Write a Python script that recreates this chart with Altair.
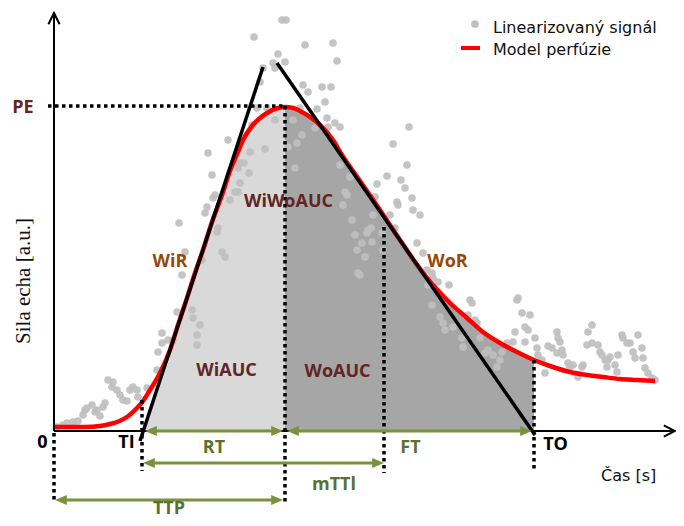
import altair as alt
import pandas as pd

# ---------------- data (time / signal in figure units) ----------------
sig_time = [3, 9, 13, 19, 24, 29, 31, 33, 38, 41, 43, 46, 49, 51, 54, 59, 58, 63, 66, 69, 73, 76, 79, 83, 84, 93,
            103, 104, 108, 108, 114, 119, 123, 128, 138, 139, 146, 143, 143,
            154, 158, 161, 159, 153, 151, 125, 164, 163, 131, 168, 171, 148, 186, 190, 184, 195, 186, 181, 176, 184, 211,
            228, 232, 200, 224, 219, 231, 221, 209, 206, 203, 213, 221, 198, 174, 196, 246,
            251, 279, 283, 249, 254, 268, 277, 271, 263, 273, 281, 286, 274, 355, 339, 239, 248, 243, 261, 234,
            241, 353, 333, 323, 347, 351, 358, 343, 344, 321, 359, 366, 336, 341, 363, 369, 374, 291, 293, 289,
            298, 314, 317, 313, 301, 308, 318, 303, 311, 306, 304, 328, 329, 319, 286, 296,
            373, 378, 384, 395, 379, 378, 386, 389, 391, 399, 408, 409, 426, 434, 431, 439, 446, 443, 448, 416,
            418, 414, 421, 423, 463, 464, 461, 459, 453,
            468, 476, 471, 474, 471, 481, 483, 484, 488, 491, 494, 503, 504, 506, 498, 503, 508, 509, 514, 516,
            519, 524, 528, 529, 538, 534, 533, 538, 544, 546, 548, 551, 554, 556, 553, 561, 563, 564, 568, 569,
            573, 576, 584, 588, 579, 581, 589, 591, 594, 598, 601]
sig_val = [4, 6, 8, 9, 10, 16, 21, 23, 26, 19, 21, 15, 24, 28, 51, 49, 44, 41, 36, 31, 30, 41, 44, 41, 34, 43,
           61, 79, 88, 98, 91, 91, 119, 156, 121, 113, 106, 96, 86,
           278, 256, 236, 233, 224, 218, 208, 203, 199, 179, 179, 174, 171, 268, 268, 263, 258, 248, 239, 231, 239, 282,
           411, 411, 394, 377, 368, 369, 363, 363, 349, 323, 323, 311, 306, 291, 279, 323,
           386, 388, 370, 346, 339, 344, 344, 329, 322, 313, 308, 304, 304, 304, 287, 311, 296, 288, 303, 284,
           263, 266, 255, 247, 251, 243, 233, 229, 226, 234, 221, 216, 216, 203, 188, 178, 146, 239, 236, 226,
           211, 201, 203, 198, 196, 188, 189, 181, 174, 156, 158, 198, 181, 216, 266, 254,
           161, 158, 149, 146, 153, 126, 114, 108, 101, 104, 93, 84, 93, 81, 78, 76, 71, 64, 79, 131,
           128, 116, 111, 108, 131, 133, 99, 89, 88,
           118, 116, 104, 101, 89, 93, 83, 76, 71, 58, 85, 99, 93, 89, 83, 78, 81, 76, 68, 64,
           66, 54, 64, 66, 106, 99, 86, 88, 86, 79, 76, 71, 71, 74, 64, 66, 59, 76, 96, 93,
           88, 88, 96, 83, 79, 73, 73, 63, 58, 53, 51]

model_time = [0, 16, 31, 46, 56, 63, 73, 83, 89, 96, 106, 116, 124, 133, 141, 149, 158, 168, 176, 184, 189, 198,
              206, 213, 224, 231, 239, 246, 256, 266, 279, 288, 306, 326, 346, 359, 373, 379, 396, 413, 429, 446,
              463, 480, 496, 516, 533, 549, 566, 583, 601]
model_val = [4, 4, 4, 5, 7, 9, 14, 23, 30, 41, 58, 81, 106, 133, 158, 181, 209, 236, 260, 279, 291, 305,
             313, 318, 323, 324, 323, 320, 314, 306, 291, 276, 250, 221, 191, 172, 153, 146, 128, 113, 99, 88,
             79, 71, 65, 59, 56, 54, 52, 51, 50]

TI, TTP, MTT, TO, PE = 88, 231, 330, 480, 325
wir_t, wir_s = [86, 209], [-10, 364]     # wash-in tangent
wor_t, wor_s = [223, 481], [368, -4]     # wash-out tangent

RED = "#ff0000"
GREEN = "#77933c"
GREEN_TXT = "#5a7130"
BROWN = "#632523"
ORANGE = "#984807"

xs = alt.Scale(domain=[-46, 622], nice=False, zero=False)
ys = alt.Scale(domain=[-87, 423], nice=False, zero=False)


def X(f="t"):
    return alt.X(f"{f}:Q", scale=xs, axis=None)


def Y(f="s"):
    return alt.Y(f"{f}:Q", scale=ys, axis=None)


def wir_at(t):
    return wir_s[0] + (t - wir_t[0]) * (wir_s[1] - wir_s[0]) / (wir_t[1] - wir_t[0])


# ---------- shaded areas ----------
t0 = wir_t[0] + (0 - wir_s[0]) * (wir_t[1] - wir_t[0]) / (wir_s[1] - wir_s[0])
light_rows = [{"t": t0, "s": 0, "b": 0}]
for t, s in zip(model_time, model_val):
    if t0 < t <= TTP:
        light_rows.append({"t": t, "s": max(0, min(s, wir_at(t))), "b": 0})
light_df = pd.DataFrame(light_rows)
dark_df = pd.DataFrame([{"t": t, "s": s, "b": 0} for t, s in zip(model_time, model_val) if TTP <= t <= TO])

light = alt.Chart(light_df).mark_area(color="#d9d9d9", opacity=1).encode(x=X(), y=Y(), y2="b:Q")
dark = alt.Chart(dark_df).mark_area(color="#a6a6a6", opacity=1).encode(x=X(), y=Y(), y2="b:Q")

# ---------- scatter ----------
sig_df = pd.DataFrame({"t": sig_time, "s": sig_val})
pts = alt.Chart(sig_df).mark_circle(size=58, color="#bfbfbf", opacity=0.92).encode(x=X(), y=Y())

# ---------- model ----------
model_df = pd.DataFrame({"t": model_time, "s": model_val})
model = alt.Chart(model_df).mark_line(color=RED, strokeWidth=4.5, interpolate="monotone").encode(x=X(), y=Y())

# ---------- tangents ----------
tan_df = pd.DataFrame({"t": [wir_t[0], wor_t[0]], "s": [wir_s[0], wor_s[0]],
                       "t2": [wir_t[1], wor_t[1]], "s2": [wir_s[1], wor_s[1]]})
tangents = alt.Chart(tan_df).mark_rule(color="black", strokeWidth=3.5).encode(
    x=X(), y=Y(), x2="t2:Q", y2="s2:Q")

# ---------- dotted guides ----------
dot_df = pd.DataFrame({
    "t": [-6, TTP, TI, 0, MTT, TO],
    "s": [PE, PE, 31, -2, 204, 71],
    "t2": [TTP, TTP, TI, 0, MTT, TO],
    "s2": [PE, -72, -40, -72, -42, -39],
})
dots = alt.Chart(dot_df).mark_rule(color="black", strokeWidth=3.5, strokeDash=[3.5, 3.5]).encode(
    x=X(), y=Y(), x2="t2:Q", y2="s2:Q")

# ---------- axes ----------
ax_df = pd.DataFrame({"t": [0, 0], "s": [0, 0], "t2": [0, 620], "s2": [416, 0]})
axes = alt.Chart(ax_df).mark_rule(color="black", strokeWidth=2).encode(
    x=X(), y=Y(), x2="t2:Q", y2="s2:Q")
axhead_df = pd.DataFrame({"t": [0, 621], "s": [418, 0], "ang": [270, 0]})
axheads = alt.Chart(axhead_df).mark_point(
    shape="M-1,-0.5L0,0L-1,0.5", filled=False, size=500, color="black", strokeWidth=2, opacity=1
).encode(x=X(), y=Y(), angle=alt.Angle("ang:Q", scale=None))

# ---------- green interval arrows ----------
arr_left = [TI + 3, TTP + 2, TI + 1, 1]
arr_right = [TTP - 2, TO - 2, MTT, TTP - 2]
arr_y = [0, 0, -32, -69]
arr_df = pd.DataFrame({"t": [l + 6 for l in arr_left], "t2": [r - 6 for r in arr_right], "s": arr_y})
arr_lines = alt.Chart(arr_df).mark_rule(color=GREEN, strokeWidth=3).encode(x=X(), x2="t2:Q", y=Y())
head_df = pd.DataFrame({"t": arr_left + arr_right, "s": arr_y + arr_y,
                        "ang": [180] * 4 + [0] * 4})
arr_heads = alt.Chart(head_df).mark_point(
    shape="M0,0L-1,-0.42L-1,0.42Z", filled=True, size=560, color=GREEN, opacity=1, strokeWidth=0
).encode(x=X(), y=Y(), angle=alt.Angle("ang:Q", scale=None))

# ---------- bold labels ----------
lab_df = pd.DataFrame([
    {"t": -31, "s": 318, "label": "PE", "col": BROWN},
    {"t": 234.5, "s": 224, "label": "WiWoAUC", "col": BROWN},
    {"t": 172.5, "s": 55, "label": "WiAUC", "col": BROWN},
    {"t": 283.5, "s": 54, "label": "WoAUC", "col": BROWN},
    {"t": 116, "s": 164, "label": "WiR", "col": ORANGE},
    {"t": 393.5, "s": 164, "label": "WoR", "col": ORANGE},
    {"t": -11.5, "s": -17, "label": "0", "col": "black"},
    {"t": 72.5, "s": -17, "label": "TI", "col": "black"},
    {"t": 501.5, "s": -19, "label": "TO", "col": "black"},
    {"t": 160, "s": -22, "label": "RT", "col": GREEN_TXT},
    {"t": 356.5, "s": -22, "label": "FT", "col": GREEN_TXT},
    {"t": 280, "s": -59, "label": "mTTl", "col": GREEN_TXT},
    {"t": 115, "s": -83, "label": "TTP", "col": GREEN_TXT},
])
labels = alt.Chart(lab_df).mark_text(
    font="Open Sans", fontWeight="bold", fontSize=18, align="center", baseline="alphabetic"
).encode(x=X(), y=Y(), text="label:N", color=alt.Color("col:N", scale=None))

# ---------- axis titles ----------
xt_df = pd.DataFrame({"t": [547], "s": [-50], "label": ["Čas [s]"]})
xtitle = alt.Chart(xt_df).mark_text(
    font="DejaVu Sans", fontSize=16, align="left", baseline="alphabetic", color="#111111"
).encode(x=X(), y=Y(), text="label:N")
yt_df = pd.DataFrame({"t": [-24.5], "s": [150], "label": ["Sila echa [a.u.]"]})
ytitle = alt.Chart(yt_df).mark_text(
    font="Liberation Serif", fontSize=21, align="center", baseline="alphabetic", angle=270, color="#111111"
).encode(x=X(), y=Y(), text="label:N")

# ---------- legend ----------
leg_dot = alt.Chart(pd.DataFrame({"t": [421], "s": [407]})).mark_circle(
    size=60, color="#bfbfbf", opacity=1).encode(x=X(), y=Y())
leg_line = alt.Chart(pd.DataFrame({"t": [407], "t2": [426], "s": [383]})).mark_rule(
    color=RED, strokeWidth=4).encode(x=X(), x2="t2:Q", y=Y())
leg_txt = alt.Chart(pd.DataFrame({"t": [439, 439], "s": [398, 376],
                                  "label": ["Linearizovaný signál", "Model perfúzie"]})).mark_text(
    font="DejaVu Sans", fontSize=16, align="left", baseline="alphabetic", color="#111111"
).encode(x=X(), y=Y(), text="label:N")

chart = alt.layer(
    light, dark, pts, model, tangents, dots, axes, axheads, arr_lines, arr_heads,
    labels, xtitle, ytitle, leg_dot, leg_line, leg_txt
).properties(
    width=668, height=510, padding=0, autosize=alt.AutoSizeParams(type="none")
).configure_view(stroke=None)

chart.save("out.html", embed_options={"renderer": "svg", "actions": False})
